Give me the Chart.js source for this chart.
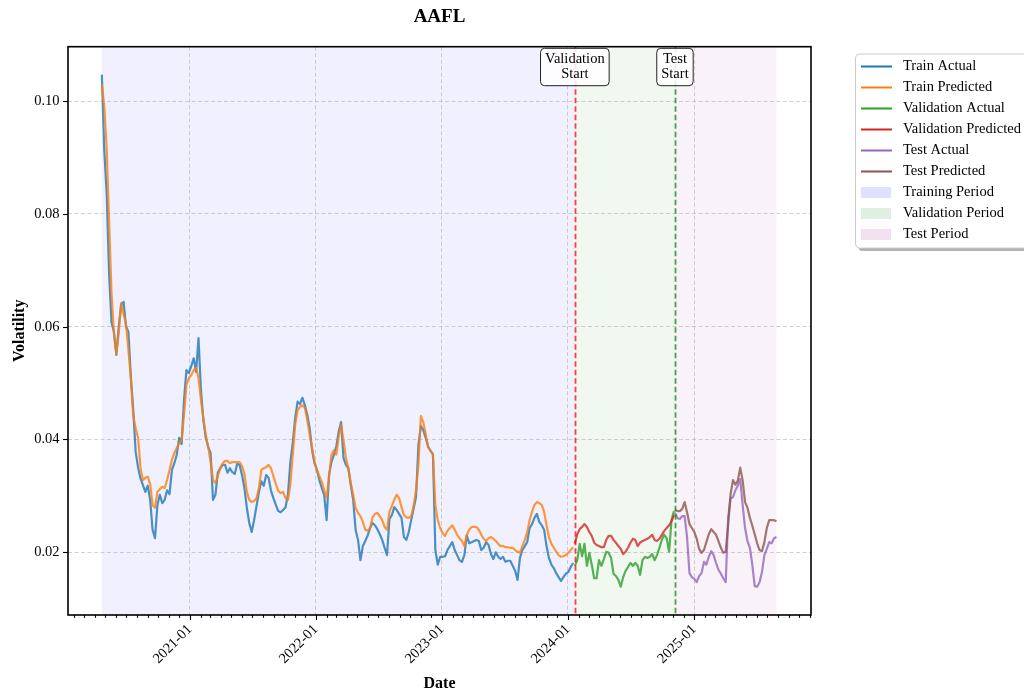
<!DOCTYPE html>
<html>
<head>
<meta charset="utf-8">
<script src="https://cdn.jsdelivr.net/npm/chart.js@4.4.1/dist/chart.umd.min.js"></script>
<style>
  html, body { margin: 0; padding: 0; background: #ffffff; }
  canvas { display: block; }
</style>
</head>
<body>
<canvas id="chart" width="1024" height="695"></canvas>
<script>
// AAFL volatility: weekly observations, actual vs. model prediction per split

const trainStart = '2020-04-21';
const valStart   = '2024-01-21';
const testStart  = '2024-11-06';

const trainActual = [
  0.1047,0.0913,0.0837,0.0695,0.0608,0.0591,0.0550,0.0600,0.0639,0.0644,
  0.0600,0.0591,0.0511,0.0452,0.0378,0.0350,0.0331,0.0319,0.0307,0.0318,
  0.0293,0.0240,0.0225,0.0284,0.0302,0.0287,0.0293,0.0310,0.0303,0.0346,
  0.0358,0.0373,0.0403,0.0392,0.0470,0.0523,0.0518,0.0530,0.0544,0.0520,
  0.0580,0.0488,0.0435,0.0403,0.0387,0.0376,0.0293,0.0302,0.0342,0.0349,
  0.0355,0.0355,0.0341,0.0349,0.0342,0.0339,0.0357,0.0355,0.0337,0.0314,
  0.0279,0.0252,0.0236,0.0257,0.0282,0.0307,0.0326,0.0318,0.0337,0.0332,
  0.0309,0.0296,0.0284,0.0273,0.0271,0.0275,0.0280,0.0302,0.0360,0.0394,
  0.0438,0.0467,0.0463,0.0474,0.0461,0.0444,0.0420,0.0381,0.0358,0.0346,
  0.0328,0.0314,0.0302,0.0257,0.0337,0.0360,0.0373,0.0387,0.0414,0.0431,
  0.0367,0.0355,0.0349,0.0319,0.0293,0.0240,0.0222,0.0186,0.0211,0.0220,
  0.0230,0.0243,0.0252,0.0248,0.0241,0.0232,0.0222,0.0208,0.0195,0.0259,
  0.0266,0.0280,0.0275,0.0268,0.0261,0.0227,0.0222,0.0236,0.0257,0.0277,
  0.0298,0.0390,0.0424,0.0417,0.0403,0.0387,0.0380,0.0374,0.0204,0.0178,
  0.0192,0.0192,0.0193,0.0204,0.0211,0.0218,0.0204,0.0195,0.0186,0.0183,
  0.0195,0.0230,0.0216,0.0218,0.0220,0.0222,0.0220,0.0204,0.0208,0.0218,
  0.0213,0.0197,0.0188,0.0200,0.0192,0.0188,0.0192,0.0183,0.0185,0.0185,
  0.0176,0.0167,0.0151,0.0190,0.0204,0.0211,0.0218,0.0243,0.0250,0.0261,
  0.0268,0.0254,0.0248,0.0240,0.0211,0.0190,0.0178,0.0172,0.0163,0.0156,
  0.0149,0.0156,0.0162,0.0165,0.0174,0.0181
];

const trainPredicted = [
  0.1030,0.0992,0.0917,0.0789,0.0660,0.0589,0.0552,0.0589,0.0642,0.0622,
  0.0606,0.0559,0.0509,0.0442,0.0420,0.0403,0.0350,0.0328,0.0332,0.0334,
  0.0321,0.0284,0.0279,0.0307,0.0312,0.0316,0.0314,0.0328,0.0346,0.0364,
  0.0376,0.0385,0.0394,0.0399,0.0443,0.0497,0.0509,0.0514,0.0523,0.0527,
  0.0509,0.0470,0.0438,0.0408,0.0387,0.0360,0.0328,0.0323,0.0335,0.0349,
  0.0358,0.0362,0.0362,0.0358,0.0360,0.0360,0.0360,0.0360,0.0353,0.0339,
  0.0307,0.0293,0.0289,0.0291,0.0296,0.0314,0.0346,0.0349,0.0351,0.0355,
  0.0349,0.0335,0.0321,0.0309,0.0305,0.0307,0.0296,0.0293,0.0319,0.0373,
  0.0426,0.0452,0.0458,0.0461,0.0456,0.0435,0.0408,0.0385,0.0360,0.0346,
  0.0335,0.0325,0.0310,0.0298,0.0332,0.0373,0.0381,0.0373,0.0404,0.0426,
  0.0399,0.0367,0.0349,0.0323,0.0302,0.0279,0.0270,0.0264,0.0254,0.0240,
  0.0238,0.0243,0.0262,0.0268,0.0270,0.0264,0.0257,0.0245,0.0240,0.0272,
  0.0282,0.0293,0.0302,0.0296,0.0280,0.0266,0.0262,0.0261,0.0264,0.0282,
  0.0310,0.0355,0.0442,0.0431,0.0410,0.0387,0.0380,0.0373,0.0284,0.0257,
  0.0243,0.0234,0.0229,0.0238,0.0243,0.0248,0.0240,0.0231,0.0225,0.0220,
  0.0211,0.0231,0.0240,0.0245,0.0245,0.0245,0.0240,0.0231,0.0224,0.0220,
  0.0225,0.0227,0.0224,0.0220,0.0215,0.0211,0.0211,0.0209,0.0209,0.0208,
  0.0208,0.0204,0.0201,0.0199,0.0211,0.0222,0.0236,0.0257,0.0272,0.0284,
  0.0289,0.0287,0.0284,0.0272,0.0248,0.0227,0.0215,0.0208,0.0201,0.0195,
  0.0192,0.0193,0.0195,0.0199,0.0204,0.0209
];

const valActual = [
  0.0176,0.0186,0.0215,0.0193,0.0215,0.0176,0.0199,0.0178,0.0154,0.0154,
  0.0186,0.0176,0.0188,0.0201,0.0199,0.0190,0.0162,0.0158,0.0151,0.0139,
  0.0156,0.0167,0.0174,0.0181,0.0176,0.0181,0.0176,0.0160,0.0186,0.0192,
  0.0190,0.0192,0.0197,0.0186,0.0195,0.0208,0.0222,0.0231,0.0225,0.0201,
  0.0257,0.0273
];

const valPredicted = [
  0.0215,0.0232,0.0241,0.0245,0.0250,0.0245,0.0236,0.0229,0.0217,0.0213,
  0.0211,0.0209,0.0209,0.0222,0.0229,0.0229,0.0222,0.0217,0.0211,0.0206,
  0.0197,0.0201,0.0208,0.0217,0.0224,0.0222,0.0211,0.0217,0.0220,0.0222,
  0.0224,0.0227,0.0231,0.0222,0.0220,0.0224,0.0231,0.0238,0.0243,0.0248,
  0.0255,0.0266
];

const testActual = [
  0.0270,0.0261,0.0259,0.0264,0.0264,0.0227,0.0163,0.0156,0.0153,0.0147,
  0.0158,0.0163,0.0183,0.0178,0.0192,0.0202,0.0195,0.0181,0.0169,0.0162,
  0.0154,0.0147,0.0261,0.0295,0.0298,0.0310,0.0318,0.0330,0.0284,0.0243,
  0.0220,0.0208,0.0178,0.0140,0.0139,0.0147,0.0165,0.0195,0.0206,0.0218,
  0.0216,0.0225,0.0227
];

const testPredicted = [
  0.0275,0.0273,0.0273,0.0277,0.0289,0.0271,0.0250,0.0243,0.0236,0.0224,
  0.0206,0.0199,0.0204,0.0218,0.0232,0.0241,0.0236,0.0231,0.0220,0.0208,
  0.0199,0.0201,0.0248,0.0303,0.0328,0.0320,0.0327,0.0350,0.0328,0.0289,
  0.0279,0.0261,0.0247,0.0232,0.0216,0.0204,0.0202,0.0218,0.0243,0.0257,
  0.0257,0.0257,0.0255
];

const yTicks = [0.02, 0.04, 0.06, 0.08, 0.10];
const yearTickLabels = ['2021-01', '2022-01', '2023-01', '2024-01', '2025-01'];

// ---- helpers ----
const FONT = "'Liberation Serif', 'Times New Roman', serif";
const DAY = 86400000;
const toMs = s => Date.parse(s + 'T00:00:00Z');
const weekly = (start, n) => { const t0 = toMs(start); return Array.from({length: n}, (_, i) => t0 + i * 7 * DAY); };
const pts = (dates, vals) => vals.map((v, i) => ({x: dates[i], y: v}));

const trainDates = weekly(trainStart, trainActual.length);
const valDates   = weekly(valStart, valActual.length);
const testDates  = weekly(testStart, testActual.length);

const X_MIN = toMs('2020-01-14');
const X_MAX = toMs('2025-12-05');
const Y_MIN = 0.00888;
const Y_MAX = 0.10965;

// monthly minor ticks, January ones carry the year label
const monthTicks = [];
for (let y = 2020; y <= 2025; y++) {
  for (let m = 0; m < 12; m++) {
    const t = Date.UTC(y, m, 1);
    if (t >= X_MIN && t <= X_MAX) monthTicks.push(t);
  }
}
const isJan = v => new Date(v).getUTCMonth() === 0 && new Date(v).getUTCDate() === 1;
const yearLabel = v => {
  const lbl = new Date(v).getUTCFullYear() + '-01';
  return yearTickLabels.includes(lbl) ? lbl : '';
};

const series = [
  {label: 'Train Actual',         dates: trainDates, values: trainActual,    rgb: '31,119,180'},
  {label: 'Train Predicted',      dates: trainDates, values: trainPredicted, rgb: '255,127,14'},
  {label: 'Validation Actual',    dates: valDates,   values: valActual,      rgb: '44,160,44'},
  {label: 'Validation Predicted', dates: valDates,   values: valPredicted,   rgb: '214,39,40'},
  {label: 'Test Actual',          dates: testDates,  values: testActual,     rgb: '148,103,189'},
  {label: 'Test Predicted',       dates: testDates,  values: testPredicted,  rgb: '140,86,75'}
];

const periods = [
  {label: 'Training Period',   from: trainDates[0], to: valDates[0],  fill: 'rgba(0,0,255,0.06)',   patch: 'rgba(0,0,255,0.12)'},
  {label: 'Validation Period', from: valDates[0],   to: testDates[0], fill: 'rgba(0,128,0,0.06)',   patch: 'rgba(0,128,0,0.12)'},
  {label: 'Test Period',       from: testDates[0],  to: testDates[testDates.length - 1], fill: 'rgba(128,0,128,0.05)', patch: 'rgba(128,0,128,0.12)'}
];

const markers = [
  {lines: ['Validation', 'Start'], at: valDates[0],  color: 'rgba(255,0,0,0.75)'},
  {lines: ['Test', 'Start'],       at: testDates[0], color: 'rgba(0,128,0,0.72)'}
];

const GRID = 'rgba(170,170,170,0.55)';

const decor = {
  id: 'decor',
  beforeDraw(chart) {
    const {ctx, chartArea: a, scales: {x}} = chart;
    ctx.save();
    periods.forEach(p => {
      const x0 = x.getPixelForValue(p.from), x1 = x.getPixelForValue(p.to);
      ctx.fillStyle = p.fill;
      ctx.fillRect(x0, a.top, x1 - x0, a.bottom - a.top);
    });
    ctx.restore();
  },
  afterDatasetsDraw(chart) {
    const {ctx, chartArea: a, scales: {x}} = chart;
    ctx.save();
    markers.forEach(m => {
      const px = Math.round(x.getPixelForValue(m.at)) + 0.5;
      ctx.strokeStyle = m.color;
      ctx.lineWidth = 1.8;
      ctx.setLineDash([5.5, 3]);
      ctx.beginPath();
      ctx.moveTo(px, a.top);
      ctx.lineTo(px, a.bottom);
      ctx.stroke();
    });
    ctx.restore();
  },
  afterDraw(chart) {
    const {ctx, chartArea: a, scales: {x, y}} = chart;
    ctx.save();

    // tick marks
    ctx.strokeStyle = '#000';
    ctx.lineWidth = 1.1;
    x.ticks.forEach(t => {
      const px = Math.round(x.getPixelForValue(t.value)) + 0.5;
      const len = isJan(t.value) ? 5 : 2.8;
      ctx.beginPath();
      ctx.moveTo(px, a.bottom);
      ctx.lineTo(px, a.bottom + len);
      ctx.stroke();
    });
    y.ticks.forEach(t => {
      const py = Math.round(y.getPixelForValue(t.value)) + 0.5;
      ctx.beginPath();
      ctx.moveTo(a.left - 5, py);
      ctx.lineTo(a.left, py);
      ctx.stroke();
    });

    // axes frame
    ctx.lineWidth = 1.6;
    ctx.strokeRect(a.left, a.top, a.right - a.left, a.bottom - a.top);

    // title
    ctx.fillStyle = '#000';
    ctx.font = `bold 19px ${FONT}`;
    ctx.textAlign = 'center';
    ctx.textBaseline = 'middle';
    ctx.fillText('AAFL', (a.left + a.right) / 2, 17);

    // split markers with labels
    ctx.font = `14.5px ${FONT}`;
    markers.forEach(m => {
      const cx = x.getPixelForValue(m.at);
      const w = Math.max(...m.lines.map(s => ctx.measureText(s).width)) + 9;
      const top = 48.3, h = 37.4;
      ctx.beginPath();
      ctx.roundRect(cx - w / 2, top, w, h, 4);
      ctx.fillStyle = 'rgba(255,255,255,0.85)';
      ctx.fill();
      ctx.lineWidth = 1;
      ctx.strokeStyle = '#222';
      ctx.stroke();
      ctx.fillStyle = '#000';
      m.lines.forEach((s, i) => ctx.fillText(s, cx, top + 10.5 + i * 15));
    });

    // legend
    const lx = 855.5, ly = 54, lw = 180, lh = 194;
    ctx.fillStyle = 'rgba(0,0,0,0.3)';
    ctx.beginPath();
    ctx.roundRect(lx + 3, ly + 3, lw, lh, 4);
    ctx.fill();
    ctx.fillStyle = '#fff';
    ctx.strokeStyle = '#cccccc';
    ctx.lineWidth = 1;
    ctx.beginPath();
    ctx.roundRect(lx, ly, lw, lh, 4);
    ctx.fill();
    ctx.stroke();

    const entries = [
      ...series.map(s => ({label: s.label, kind: 'line', color: `rgb(${s.rgb})`})),
      ...periods.map(p => ({label: p.label, kind: 'patch', color: p.patch}))
    ];
    ctx.textAlign = 'left';
    ctx.textBaseline = 'middle';
    entries.forEach((e, i) => {
      const cy = 66.5 + i * 21;
      if (e.kind === 'line') {
        ctx.strokeStyle = e.color;
        ctx.lineWidth = 2;
        ctx.beginPath();
        ctx.moveTo(861, cy);
        ctx.lineTo(892, cy);
        ctx.stroke();
      } else {
        ctx.fillStyle = e.color;
        ctx.fillRect(861, cy - 5.5, 30, 11);
      }
      ctx.fillStyle = '#000';
      ctx.fillText(e.label, 903, cy);
    });
    ctx.restore();
  }
};

new Chart(document.getElementById('chart'), {
  type: 'line',
  data: {
    datasets: series.map((s, i) => ({
      label: s.label,
      data: pts(s.dates, s.values),
      borderColor: `rgba(${s.rgb},0.8)`,
      borderWidth: 2.2,
      borderJoinStyle: 'round',
      pointRadius: 0,
      fill: false,
      tension: 0,
      order: series.length - i
    }))
  },
  options: {
    responsive: false,
    animation: false,
    devicePixelRatio: 1,
    layout: {padding: {top: 46.7, right: 213, left: 0, bottom: 0}},
    plugins: {legend: {display: false}, tooltip: {enabled: false}, title: {display: false}},
    scales: {
      x: {
        type: 'linear',
        min: X_MIN,
        max: X_MAX,
        afterBuildTicks: s => { s.ticks = monthTicks.map(v => ({value: v})); },
        afterFit: s => { s.height = 80; s.paddingLeft = 0; s.paddingRight = 0; },
        ticks: {
          autoSkip: false, maxRotation: 45, minRotation: 45, padding: 6,
          color: '#000', font: {family: FONT, size: 14.5},
          callback: v => isJan(v) ? yearLabel(v) : ''
        },
        grid: {
          drawTicks: false, lineWidth: 1,
          color: c => (c.tick && isJan(c.tick.value)) ? GRID : 'rgba(0,0,0,0)'
        },
        border: {display: false, dash: [4, 2.5]},
        title: {display: true, text: 'Date', color: '#000',
                font: {family: FONT, size: 16, weight: 'bold'}, padding: {top: 0, bottom: 1.5}}
      },
      y: {
        type: 'linear',
        min: Y_MIN,
        max: Y_MAX,
        afterBuildTicks: s => { s.ticks = yTicks.map(v => ({value: v})); },
        afterFit: s => { s.width = 68; },
        ticks: {padding: 8.5, color: '#000', font: {family: FONT, size: 14.5}, callback: v => v.toFixed(2)},
        grid: {drawTicks: false, lineWidth: 1, color: GRID},
        border: {display: false, dash: [4, 2.5]},
        title: {display: true, text: 'Volatility', color: '#000',
                font: {family: FONT, size: 16, weight: 'bold'}, padding: {top: 10.4, bottom: 0}}
      }
    }
  },
  plugins: [decor]
});
</script>
</body>
</html>
